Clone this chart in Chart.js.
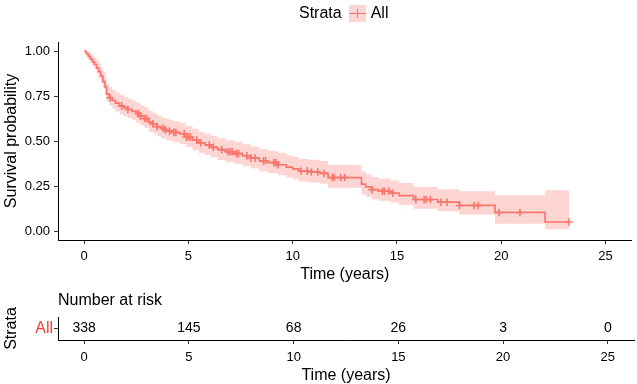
<!DOCTYPE html>
<html>
<head>
<meta charset="utf-8">
<script src="https://cdn.jsdelivr.net/npm/chart.js@4.4.1/dist/chart.umd.min.js"></script>
<style>
  html, body { margin: 0; padding: 0; background: #fff; }
  body { width: 637px; height: 384px; position: relative; overflow: hidden; font-family: "Liberation Sans", Arial, sans-serif; }
  #km-wrap { position: absolute; left: 0; top: 0; width: 637px; height: 285px; }
  #risco-wrap { position: absolute; left: 0; top: 285px; width: 637px; height: 99px; }
  .legenda { position: absolute; top: 4px; left: 299px; display: flex; align-items: center; font-size: 16px; line-height: 18px; color: #000; }
  .legenda .chave { width: 17px; height: 17px; background: rgba(248,118,109,0.3); position: relative; margin: 0 5px 0 7px; }
  .legenda .chave::before { content: ''; position: absolute; left: 0; right: 0; top: 8px; height: 1.5px; background: #F8766D; }
  .legenda .chave::after { content: ''; position: absolute; left: 8px; width: 1.5px; top: 4px; height: 9px; background: #F8766D; }
</style>
</head>
<body>
<div id="km-wrap"><canvas id="km-canvas" width="637" height="285"></canvas></div>
<div class="legenda"><span>Strata</span><span class="chave"></span><span>All</span></div>
<div id="risco-wrap"><canvas id="risco-canvas" width="637" height="99"></canvas></div>
<script>
// curva de Kaplan-Meier (tempo em anos -> sobrevida)
const TEMPOS = [0, 0.1, 0.2, 0.3, 0.4, 0.5, 0.6, 0.7, 0.8, 0.9,
  1.0, 1.08, 1.2, 1.35, 1.5, 1.7, 1.9, 2.1, 2.3, 2.5,
  2.7, 2.9, 3.1, 3.3, 3.5, 3.7, 3.9, 4.1, 4.3, 4.6,
  4.9, 5.2, 5.5, 5.8, 6.1, 6.4, 6.8, 7.2, 7.6, 8.0,
  8.4, 8.8, 9.3, 9.7, 10.0, 10.3, 10.8, 11.3, 11.7, 13.3,
  13.5, 13.8, 14.1, 14.7, 15.1, 15.8, 16.95, 18.0, 19.7, 22.1];
const SOBREV = [1.0, 0.985, 0.97, 0.955, 0.94, 0.925, 0.905, 0.885, 0.86, 0.83,
  0.80, 0.76, 0.74, 0.725, 0.71, 0.695, 0.685, 0.675, 0.665, 0.652,
  0.638, 0.625, 0.605, 0.595, 0.58, 0.57, 0.562, 0.555, 0.548, 0.54,
  0.522, 0.505, 0.49, 0.478, 0.465, 0.452, 0.44, 0.43, 0.418, 0.405,
  0.39, 0.38, 0.368, 0.355, 0.345, 0.333, 0.328, 0.32, 0.297, 0.26,
  0.245, 0.23, 0.221, 0.21, 0.197, 0.175, 0.16, 0.142, 0.103, 0.05];
const LIM_SUP = [1.0, 1.0, 0.995, 0.985, 0.975, 0.963, 0.948, 0.932, 0.91, 0.883,
  0.855, 0.818, 0.8, 0.785, 0.77, 0.755, 0.745, 0.735, 0.725, 0.712,
  0.698, 0.686, 0.666, 0.656, 0.641, 0.631, 0.624, 0.617, 0.61, 0.6,
  0.583, 0.567, 0.552, 0.54, 0.528, 0.515, 0.504, 0.494, 0.482, 0.47,
  0.455, 0.446, 0.434, 0.421, 0.412, 0.4, 0.396, 0.389, 0.367, 0.33,
  0.315, 0.3, 0.291, 0.28, 0.267, 0.245, 0.232, 0.221, 0.198, 0.227];
const LIM_INF = [1.0, 0.972, 0.952, 0.933, 0.915, 0.897, 0.874, 0.852, 0.825, 0.793,
  0.76, 0.718, 0.697, 0.68, 0.664, 0.648, 0.637, 0.626, 0.615, 0.601,
  0.587, 0.573, 0.552, 0.541, 0.526, 0.515, 0.507, 0.5, 0.492, 0.484,
  0.466, 0.449, 0.433, 0.421, 0.408, 0.395, 0.382, 0.372, 0.36, 0.347,
  0.332, 0.322, 0.31, 0.297, 0.287, 0.275, 0.27, 0.262, 0.24, 0.205,
  0.19, 0.177, 0.168, 0.158, 0.145, 0.124, 0.11, 0.092, 0.04, 0.01];
const T_FIM = 23.25;
// tempos censurados (marcas "+")
const CENSURAS = [1.25, 1.8, 2.1, 2.6, 2.7, 2.9, 3.0, 3.3, 3.5, 3.8, 3.9, 4.1, 4.3, 4.4,
  4.8, 4.9, 5.0, 5.1, 5.4, 5.6, 6.0, 6.2, 6.6, 6.9, 7.0, 7.1, 7.3, 7.4, 7.8, 8.0, 8.2,
  8.6, 8.7, 9.1, 9.2, 9.3, 10.4, 10.7, 10.9, 11.2, 11.5, 11.9, 12.0, 12.3, 12.5,
  13.8, 14.3, 14.4, 14.6, 14.8, 15.9, 16.3, 16.4, 16.6, 17.1, 17.4, 18.0, 18.7, 18.9,
  19.9, 20.9, 23.25];
const X_TICKS = [0, 5, 10, 15, 20, 25];
const Y_TICKS = [0, 0.25, 0.5, 0.75, 1];
// tabela de numero em risco
const RISCO_TEMPOS = [0, 5, 10, 15, 20, 25];
const RISCO_N = [338, 145, 68, 26, 3, 0];

const COR = '#F8766D';
const COR_FAIXA = 'rgba(248,118,109,0.3)';
const FONTE = '"Liberation Sans", Arial, sans-serif';
Chart.defaults.font.family = FONTE;
Chart.defaults.color = '#000';

function serieDegrau(vals) {
  const pts = TEMPOS.map((t, i) => ({ x: t, y: vals[i] }));
  pts.push({ x: T_FIM, y: vals[vals.length - 1] });
  return pts;
}

function sobrevEm(t) {
  let s = SOBREV[0];
  for (let i = 0; i < TEMPOS.length; i++) if (TEMPOS[i] <= t) s = SOBREV[i];
  return s;
}

function eixoX(titulo, alturaEixo, padTicks, padTitulo) {
  return {
    type: 'linear', min: -1.25, max: 26.25,
    afterBuildTicks: s => { s.ticks = X_TICKS.map(v => ({ value: v })); },
    afterFit: s => { s.height = alturaEixo; },
    grid: { display: true, drawOnChartArea: false, drawTicks: true, tickLength: 4, color: '#333', lineWidth: 1 },
    border: { display: true, color: '#000', width: 1 },
    ticks: { color: '#000', font: { size: 13 }, padding: padTicks, maxRotation: 0, autoSkip: false },
    title: { display: true, text: titulo, color: '#000', font: { size: 16 }, padding: { top: 0, bottom: padTitulo } }
  };
}

new Chart(document.getElementById('km-canvas').getContext('2d'), {
  type: 'line',
  data: {
    datasets: [
      { label: 'sup', data: serieDegrau(LIM_SUP), stepped: 'before', borderWidth: 0, pointRadius: 0,
        backgroundColor: COR_FAIXA, fill: '+1' },
      { label: 'inf', data: serieDegrau(LIM_INF), stepped: 'before', borderWidth: 0, pointRadius: 0, fill: false },
      { label: 'All', data: serieDegrau(SOBREV), stepped: 'before', borderColor: COR, borderWidth: 1.7,
        pointRadius: 0, fill: false },
      { label: 'censura', data: CENSURAS.map(t => ({ x: t, y: sobrevEm(t) })), showLine: false,
        pointStyle: 'cross', pointRadius: 3.8, borderColor: COR, borderWidth: 1.6, pointHoverRadius: 3.8 }
    ]
  },
  options: {
    responsive: false, animation: false,
    layout: { padding: { top: 42, right: 3, left: 0, bottom: 0 } },
    plugins: { legend: { display: false }, tooltip: { enabled: false } },
    scales: {
      x: eixoX('Time (years)', 45, 5, 1),
      y: {
        type: 'linear', min: -0.05, max: 1.05,
        afterBuildTicks: s => { s.ticks = Y_TICKS.map(v => ({ value: v })); },
        afterFit: s => { s.width = 58; },
        grid: { display: true, drawOnChartArea: false, drawTicks: true, tickLength: 4, color: '#333', lineWidth: 1 },
        border: { display: true, color: '#000', width: 1 },
        ticks: { color: '#000', font: { size: 13 }, padding: 4, callback: v => v.toFixed(2) },
        title: { display: true, text: 'Survival probability', color: '#000', font: { size: 16 }, padding: { top: 2, bottom: 0 } }
      }
    }
  }
});

// escreve os numeros em risco e o titulo da tabela
const textosRisco = {
  id: 'textosRisco',
  afterDatasetsDraw(chart) {
    const { ctx, scales, chartArea } = chart;
    ctx.save();
    ctx.fillStyle = '#000';
    ctx.font = '14px ' + FONTE;
    ctx.textAlign = 'center';
    ctx.textBaseline = 'middle';
    const y = scales.y.getPixelForValue(0.5);
    RISCO_TEMPOS.forEach((t, i) => ctx.fillText(String(RISCO_N[i]), scales.x.getPixelForValue(t), y));
    ctx.font = '16px ' + FONTE;
    ctx.textAlign = 'left';
    ctx.fillText('Number at risk', chartArea.left, 16);
    ctx.restore();
  }
};

new Chart(document.getElementById('risco-canvas').getContext('2d'), {
  type: 'line',
  data: { datasets: [{ label: 'All', data: [], pointRadius: 0 }] },
  options: {
    responsive: false, animation: false,
    layout: { padding: { top: 32, right: 3, left: 0, bottom: 0 } },
    plugins: { legend: { display: false }, tooltip: { enabled: false } },
    scales: {
      x: eixoX('Time (years)', 44, 6, -1),
      y: {
        type: 'linear', min: 0, max: 1,
        afterBuildTicks: s => { s.ticks = [{ value: 0.5 }]; },
        afterFit: s => { s.width = 58; },
        grid: { display: true, drawOnChartArea: false, drawTicks: true, tickLength: 4, color: '#333', lineWidth: 1 },
        border: { display: true, color: '#000', width: 1 },
        ticks: { color: '#F2413A', font: { size: 16 }, padding: 1, callback: () => 'All' },
        title: { display: true, text: 'Strata', color: '#000', font: { size: 16 }, padding: { top: 2, bottom: 0 } }
      }
    }
  },
  plugins: [textosRisco]
});
</script>
</body>
</html>
